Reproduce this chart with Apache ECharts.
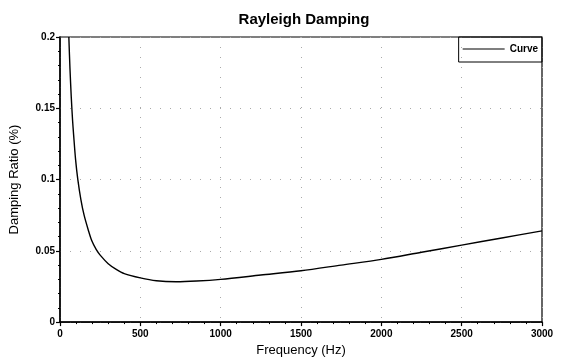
<!DOCTYPE html>
<html><head><meta charset="utf-8">
<script src="https://cdn.jsdelivr.net/npm/echarts@6/dist/echarts.min.js"></script>
<style>html,body{margin:0;padding:0;background:#fff}#c{width:564px;height:362px}</style>
</head><body><div id="c"></div>
<script>
var freq = [55, 62, 70, 78, 85, 97, 111, 130, 150, 175, 198, 225, 250, 300, 350, 400, 500, 600, 722, 850, 1000, 1250, 1500, 1750, 2000, 2250, 2500, 2750, 3000];
var damping = [0.2, 0.178, 0.158, 0.142, 0.131, 0.114, 0.100, 0.086, 0.075, 0.065, 0.057, 0.051, 0.047, 0.041, 0.037, 0.034, 0.031, 0.029, 0.0283, 0.0288, 0.030, 0.033, 0.036, 0.040, 0.044, 0.049, 0.054, 0.059, 0.064];
var xTicks = [0, 500, 1000, 1500, 2000, 2500, 3000];
var yTicks = [0, 0.05, 0.1, 0.15, 0.2];
var title = 'Rayleigh Damping';
var seriesName = 'Curve';

var data = freq.map(function(f, i){ return [f, damping[i]]; });
var font = 'Liberation Sans, Arial, sans-serif';
var chart = echarts.init(document.getElementById('c'));
chart.setOption({
  animation: false,
  backgroundColor: '#fff',
  title: { text: title, left: 299, textAlign: 'center', top: 7,
    textStyle: { fontFamily: font, fontSize: 15, fontWeight: 'bold', color: '#000' } },
  legend: { data: [seriesName], right: 22, top: 37, orient: 'vertical',
    borderColor: '#000', borderWidth: 1, borderRadius: 0, padding: [7, 4, 8, 4],
    itemWidth: 42, itemHeight: 8, icon: 'path://M0,4L42,4L42,5L0,5Z',
    textStyle: { fontFamily: font, fontSize: 10, fontWeight: 'bold', color: '#000' },
    itemStyle: { color: '#000' } },
  grid: { left: 56, right: 22, top: 37, bottom: 35, show: true, borderColor: '#000', borderWidth: 1.2, backgroundColor: 'transparent' },
  xAxis: { type: 'value', min: xTicks[0], max: xTicks[xTicks.length-1], interval: 500,
    name: 'Frequency (Hz)', nameLocation: 'middle', nameGap: 21,
    nameTextStyle: { fontFamily: font, fontSize: 13, color: '#000' },
    axisLine: { lineStyle: { color: '#000', width: 1.5 } },
    axisTick: { show: true, length: 4, lineStyle: { color: '#000', width: 1.2 } },
    minorTick: { show: true, splitNumber: 5, length: 2, lineStyle: { color: '#000' } },
    axisLabel: { fontFamily: font, fontSize: 10, fontWeight: 'bold', color: '#000', margin: 7,
      formatter: function(v){ return String(v); } },
    splitLine: { show: true, lineStyle: { color: '#aaa', type: [1, 9], width: 1 } } },
  yAxis: { type: 'value', min: yTicks[0], max: yTicks[yTicks.length-1], interval: 0.05,
    name: 'Damping Ratio (%)', nameLocation: 'middle', nameGap: 39,
    nameTextStyle: { fontFamily: font, fontSize: 13, color: '#000' },
    axisLine: { show: true, lineStyle: { color: '#000', width: 1.5 } },
    axisTick: { show: true, length: 4, lineStyle: { color: '#000', width: 1.2 } },
    minorTick: { show: true, splitNumber: 5, length: 2, lineStyle: { color: '#000' } },
    axisLabel: { fontFamily: font, fontSize: 10, fontWeight: 'bold', color: '#000', margin: 5,
      formatter: function(v){ return String(+v.toFixed(2)); } },
    splitLine: { show: true, lineStyle: { color: '#aaa', type: [1, 9], width: 1 } } },
  series: [{ name: seriesName, type: 'line', data: data, smooth: 0.3, symbol: 'none',
    lineStyle: { color: '#000', width: 1.4 }, itemStyle: { color: '#000' } }]
});
</script></body></html>
